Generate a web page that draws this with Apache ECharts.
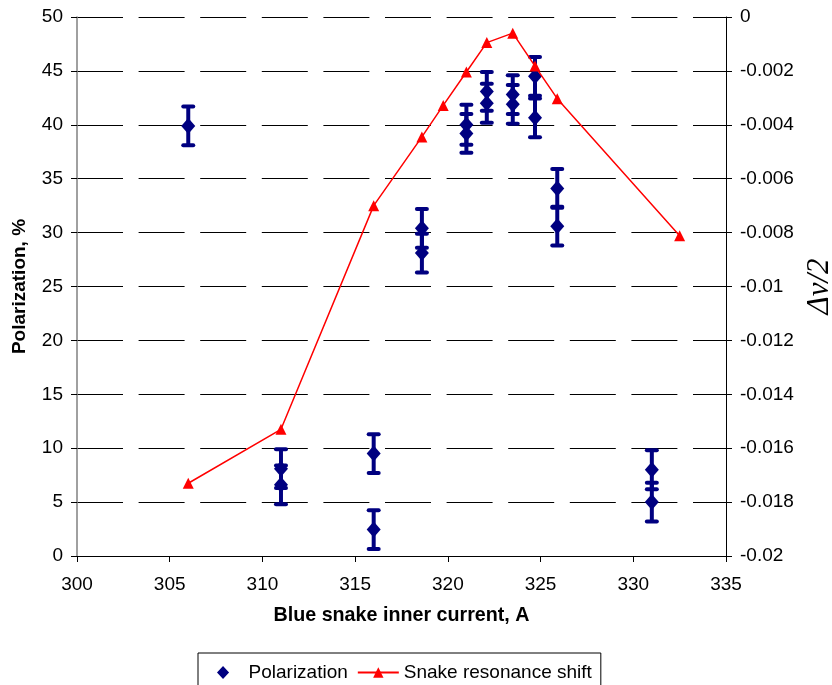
<!DOCTYPE html>
<html>
<head>
<meta charset="utf-8">
<script src="https://cdn.jsdelivr.net/npm/echarts@6/dist/echarts.min.js"></script>
<style>
html,body{margin:0;padding:0;background:#fff;}
#chart{width:832px;height:685px;}
</style>
</head>
<body>
<div id="chart"></div>
<script>
// Polarization measurements (x = current, A; y = %, err = error bar half-height)
var polX   = [306, 311, 311, 316, 316, 318.6, 318.6, 321, 321, 322.1, 322.1, 323.5, 323.5, 324.7, 324.7, 325.9, 325.9, 331, 331];
var polY   = [39.9, 8.1, 6.6, 9.5, 2.45, 30.4, 28.1, 40.0, 39.2, 43.1, 42.0, 42.8, 41.9, 44.5, 40.65, 34.1, 30.6, 8.0, 5.0];
var polErr = [1.8, 1.8, 1.8, 1.8, 1.8, 1.8, 1.8, 1.85, 1.8, 1.8, 1.8, 1.8, 1.8, 1.8, 1.8, 1.8, 1.8, 1.8, 1.8];

// Snake resonance shift (right axis)
var shiftX = [306, 311, 316, 318.6, 319.75, 321, 322.1, 323.5, 324.7, 325.9, 332.5];
var shiftY = [-0.0173, -0.0153, -0.0070, -0.00445, -0.00328, -0.00204, -0.00095, -0.0006, -0.00182, -0.00303, -0.00812];

var FONT = 'Liberation Sans, Arial, sans-serif';
var NAVY = '#000080';

var polData = polX.map(function (x, i) { return [x, polY[i]]; });
var errData = polX.map(function (x, i) { return [x, polY[i], polErr[i]]; });
var shiftData = shiftX.map(function (x, i) { return [x, shiftY[i]]; });

var chart = echarts.init(document.getElementById('chart'), null, {renderer: 'canvas'});

var option = {
  animation: false,
  backgroundColor: '#fff',
  textStyle: {fontFamily: FONT, color: '#000'},
  grid: {left: 77, top: 17, width: 649, height: 539, containLabel: false, outerBoundsMode: 'none'},
  legend: {
    left: 198, top: 653,
    padding: [10, 9, 10, 6],
    borderColor: '#000', borderWidth: 1,
    itemWidth: 41, itemHeight: 13, itemGap: 9,
    textStyle: {fontFamily: FONT, fontSize: 19, color: '#000'},
    data: [
      {name: 'Polarization', icon: 'path://M0,7L0.001,7Z M41,7L40.999,7Z M14,7L20.5,0L27,7L20.5,14Z'},
      {name: 'Snake resonance shift'}
    ]
  },
  xAxis: {
    type: 'value', min: 300, max: 335, interval: 5,
    name: 'Blue snake inner current, A', nameLocation: 'middle', nameGap: 50,
    nameTextStyle: {fontFamily: FONT, fontSize: 19.7, fontWeight: 'bold', color: '#000'},
    axisLine: {show: true, onZero: false, lineStyle: {color: '#000', width: 1}},
    axisTick: {show: true, length: 6, lineStyle: {color: '#000'}},
    axisLabel: {fontFamily: FONT, fontSize: 19, color: '#000', margin: 19},
    splitLine: {show: false}
  },
  yAxis: [
    {
      type: 'value', min: 0, max: 50, interval: 5, position: 'left',
      name: 'Polarization, %', nameLocation: 'middle', nameGap: 48,
      nameTextStyle: {fontFamily: FONT, fontSize: 19, fontWeight: 'bold', color: '#000'},
      axisLine: {show: true, onZero: false, lineStyle: {color: '#808080', width: 1.5}},
      axisTick: {show: true, length: 6, lineStyle: {color: '#000'}},
      axisLabel: {fontFamily: FONT, fontSize: 19, color: '#000', margin: 14},
      splitLine: {show: true, lineStyle: {color: '#000', width: 1, type: [46, 15.6], dashOffset: 0}}
    },
    {
      type: 'value', min: -0.02, max: 0, interval: 0.002, position: 'right',
      name: 'Δν/2', nameLocation: 'middle', nameGap: 77,
      nameTextStyle: {fontFamily: 'Liberation Serif, Times New Roman, serif', fontStyle: 'italic', fontSize: 31, color: '#000'},
      axisLine: {show: true, onZero: false, lineStyle: {color: '#000', width: 1}},
      axisTick: {show: true, length: 6, lineStyle: {color: '#000'}},
      axisLabel: {fontFamily: FONT, fontSize: 19, color: '#000', margin: 14},
      splitLine: {show: false}
    }
  ],
  series: [
    {
      name: 'errbar', type: 'custom', xAxisIndex: 0, yAxisIndex: 0,
      encode: {x: 0, y: 1},
      data: errData, z: 2, silent: true,
      renderItem: function (params, api) {
        var x = api.value(0), y = api.value(1), e = api.value(2);
        var t = api.coord([x, y + e]);
        var b = api.coord([x, y - e]);
        var hw = 5;
        var st = {stroke: NAVY, lineWidth: 4, lineCap: 'round'};
        return {
          type: 'group',
          children: [
            {type: 'line', shape: {x1: t[0], y1: t[1], x2: b[0], y2: b[1]}, style: {stroke: NAVY, lineWidth: 4}},
            {type: 'line', shape: {x1: t[0] - hw, y1: t[1], x2: t[0] + hw, y2: t[1]}, style: st},
            {type: 'line', shape: {x1: b[0] - hw, y1: b[1], x2: b[0] + hw, y2: b[1]}, style: st}
          ]
        };
      }
    },
    {
      name: 'Polarization', type: 'scatter', xAxisIndex: 0, yAxisIndex: 0,
      data: polData, symbol: 'diamond', symbolSize: [14, 16], z: 3,
      itemStyle: {color: NAVY, opacity: 1}
    },
    {
      name: 'Snake resonance shift', type: 'line', xAxisIndex: 0, yAxisIndex: 1,
      data: shiftData, symbol: 'triangle', symbolSize: 11, showSymbol: true, z: 4,
      lineStyle: {color: '#ff0000', width: 1.5},
      itemStyle: {color: '#ff0000'}
    }
  ]
};
chart.setOption(option);
</script>
</body>
</html>
